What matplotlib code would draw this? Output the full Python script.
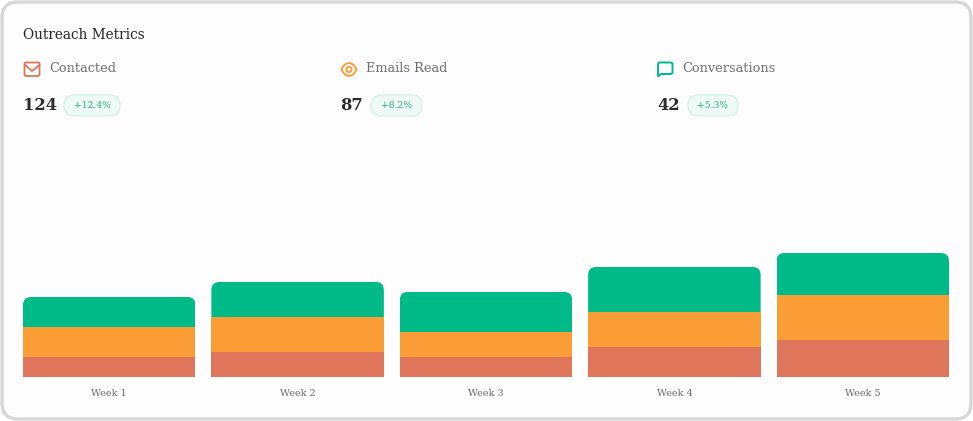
import numpy as np
import matplotlib
matplotlib.use('Agg')
import matplotlib.pyplot as plt
from matplotlib.patches import FancyBboxPatch, Circle, PathPatch
from matplotlib.path import Path

weeks = ['Week 1', 'Week 2', 'Week 3', 'Week 4', 'Week 5']
contacted = [20, 25, 20, 30, 37]
emails_read = [30, 35, 25, 35, 45]
conversations = [30, 35, 40, 45, 42]

metric_names = ['Contacted', 'Emails Read', 'Conversations']
metric_values = ['124', '87', '42']
metric_changes = ['+12.4%', '+8.2%', '+5.3%']

RED = '#df755b'
ORANGE = '#fa9d37'
GREEN = '#00ba88'
W, H = 973, 421
SERIF = ['DejaVu Serif']

fig = plt.figure(figsize=(W / 100, H / 100), dpi=100, facecolor='white')

# overlay in pixel coords for the card, header and icons
bg = fig.add_axes([0, 0, 1, 1])
bg.set_xlim(0, W)
bg.set_ylim(H, 0)
bg.axis('off')

bg.add_patch(FancyBboxPatch((2, 2), W - 4, H - 4, boxstyle='round,pad=0,rounding_size=16',
                            fc='#fdfdfd', ec='#d7d7d7', lw=2.4))

bg.text(23, 35, 'Outreach Metrics', fontsize=9.8, color='#2b2326', family=SERIF, va='center')

col_x = [23, 340, 657]
name_x = [49, 366, 682]
pill_x = [64, 371, 688]
pill_w = [56, 51, 50]
for i in range(3):
    bg.text(name_x[i], 69, metric_names[i], fontsize=9.3, color='#6f6f76', family=SERIF, va='center')
    bg.text(col_x[i], 105.5, metric_values[i], fontsize=11.8, color='#2d2b30', family=SERIF,
            va='center', weight='bold')
    bg.add_patch(FancyBboxPatch((pill_x[i], 95), pill_w[i], 21, boxstyle='round,pad=0,rounding_size=10.5',
                                fc='#edfaf5', ec='#cdf0e4', lw=0.8))
    bg.text(pill_x[i] + pill_w[i] / 2, 105.5, metric_changes[i], fontsize=6.6, color='#2fae86',
            family=SERIF, ha='center', va='center')

# envelope icon
bg.add_patch(FancyBboxPatch((24.5, 62.5), 15, 13.5, boxstyle='round,pad=0,rounding_size=1.5',
                            fc='none', ec=RED, lw=1.3))
bg.plot([25, 32, 39.5], [65, 71, 65], color=RED, lw=1.3)

# eye icon
bg.add_patch(PathPatch(Path([(341.5, 69.5), (345, 61), (353, 61), (356.5, 69.5),
                             (353, 78), (345, 78), (341.5, 69.5)],
                            [Path.MOVETO, Path.CURVE4, Path.CURVE4, Path.CURVE4,
                             Path.CURVE4, Path.CURVE4, Path.CURVE4]),
                       fc='none', ec=ORANGE, lw=1.4))
bg.add_patch(Circle((349, 69.5), 2.6, fc='none', ec=ORANGE, lw=1.4))

# chat bubble icon
bg.add_patch(PathPatch(Path([(658, 76.5), (658, 64), (659, 62.5), (671, 62.5), (672.5, 63.5),
                             (672.5, 73), (671, 74), (661, 74), (658, 76.5)]),
                       fc='none', ec=GREEN, lw=1.4, joinstyle='round'))

# stacked bars, data units match pixels vertically
ax = fig.add_axes([23 / W, 1 - 377 / H, 926 / W, 247 / H])
ax.patch.set_alpha(0)
x = np.arange(len(weeks))
bar_w = 172.5 / 188.4
red = np.array(contacted)
orange = np.array(emails_read)
green = np.array(conversations)
ax.bar(x, red, bar_w, color=RED)
ax.bar(x, orange, bar_w, bottom=red, color=ORANGE)
tops = ax.bar(x, green, bar_w, bottom=red + orange, color=GREEN)
ax.set_xlim(-bar_w / 2, len(weeks) - 1 + bar_w / 2)
ax.set_ylim(0, 247)

# round the top corners only
x_per_px = (ax.get_xlim()[1] - ax.get_xlim()[0]) / 926
rx = 8 * x_per_px
ry = 8
for b in tops:
    x0, x1 = b.get_x(), b.get_x() + b.get_width()
    y0, y1 = b.get_y(), b.get_y() + b.get_height()
    verts = [(x0, y0), (x0, y1 - ry), (x0, y1), (x0 + rx, y1), (x1 - rx, y1), (x1, y1),
             (x1, y1 - ry), (x1, y0), (x0, y0)]
    codes = [Path.MOVETO, Path.LINETO, Path.CURVE3, Path.CURVE3, Path.LINETO, Path.CURVE3,
             Path.CURVE3, Path.LINETO, Path.CLOSEPOLY]
    b.set_clip_path(Path(verts, codes), ax.transData)

for s in ax.spines.values():
    s.set_visible(False)
ax.set_yticks([])
ax.set_xticks(x, weeks, fontsize=6.9, color='#6b6b72', family=SERIF)
ax.tick_params(axis='x', length=0, pad=9)

fig.savefig('out.png', dpi=100, facecolor='white')
